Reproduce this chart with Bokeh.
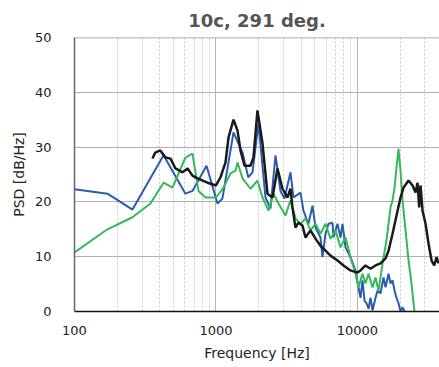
from bokeh.plotting import figure
from bokeh.models import Range1d, FixedTicker, Span
from bokeh.embed import file_html
from bokeh.resources import INLINE

# Spectra (frequency in Hz, PSD in dB/Hz)
blue_f = [100, 171, 257, 426, 608, 682, 857, 1024, 1110, 1330, 1540, 1690, 1811, 1996,
          2238, 2428, 2634, 2857, 3049, 3361, 3529, 3955, 4153, 4501, 4809, 5050, 5478,
          5659, 5943, 6241, 6661, 6770, 7225, 7587, 7838, 8230, 8928, 9686, 10164, 10508,
          10856, 11215, 11586, 11970, 12366, 12776, 13415, 13859, 14553, 15281, 15787,
          16578, 17126, 17694, 18279, 18883, 19508, 20154, 20820, 21509]
blue_db = [22.3, 21.5, 18.6, 28.5, 21.5, 22.0, 26.6, 19.7, 20.6, 32.7, 29.0, 24.5, 25.4, 34.3,
           20.8, 18.8, 28.5, 22.0, 20.6, 25.4, 20.8, 21.7, 18.4, 16.0, 19.3, 15.3, 13.5,
           9.9, 14.2, 16.0, 16.2, 13.5, 16.0, 13.5, 16.0, 11.7, 9.9, 7.5, 4.4, 2.5,
           5.7, 2.0, 1.5, 0.5, 2.5, 0.2, 2.5, 3.8, 3.3, 6.2, 4.4,
           6.9, 5.1, 5.7, 3.8, 2.5, 1.5, 0.0, 0.8, 0.0]

green_f = [100, 171, 257, 344, 426, 493, 608, 682, 752, 843, 1000, 1130, 1266, 1374, 1420,
           1540, 1753, 1964, 2131, 2350, 2550, 2766, 3099, 3361, 3646, 3955, 4290, 4655,
           5050, 5478, 5943, 6447, 6994, 7587, 8230, 8928, 9686, 10164, 10856, 11399,
           11970, 12776, 13415, 14087, 14792, 15281, 16046, 16578, 17126, 17694, 18279,
           18883, 19508, 20154, 20820, 21509, 22222, 22958, 24107, 24905, 25314]
green_db = [10.8, 15.0, 17.2, 19.7, 23.5, 22.6, 28.1, 28.8, 22.0, 20.8, 20.8, 22.6, 25.2, 25.7, 27.2,
            24.3, 22.4, 23.9, 20.8, 18.4, 21.5, 19.7, 17.5, 20.3, 17.0, 16.0, 17.0, 14.8,
            16.0, 14.2, 16.0, 13.3, 14.8, 11.7, 13.5, 9.9, 6.9, 4.4, 6.9, 5.1,
            6.9, 4.4, 6.2, 3.8, 7.5, 9.9, 13.0, 16.0, 19.0, 20.3, 22.6,
            26.3, 29.7, 25.7, 20.3, 16.6, 13.0, 9.3, 5.1, 1.5, 0.0]

black_f = [356, 372, 404, 440, 477, 517, 580, 630, 682, 740, 871, 1000, 1076, 1168, 1227,
           1330, 1420, 1490, 1591, 1753, 1841, 1964, 2131, 2312, 2509, 2721, 2952, 3202,
           3361, 3472, 3646, 3825, 4086, 4290, 4655, 5050, 5478, 5943, 6447, 7225, 7967,
           8928, 10000, 10508, 11399, 12366, 13415, 14553, 15787, 16578, 17694, 18883,
           20154, 21162, 22958, 24503, 25730, 26580, 27300, 27912, 28836, 30280, 31780,
           33388, 34880, 36220, 37418]
black_db = [27.9, 29.0, 29.4, 28.1, 27.9, 26.1, 25.4, 26.1, 24.8, 24.3, 23.5, 23.0, 24.5, 27.2, 31.8,
            35.0, 33.0, 29.4, 26.6, 26.6, 28.1, 36.7, 30.7, 21.5, 20.8, 26.1, 22.4, 20.8,
            22.4, 19.0, 15.3, 16.2, 15.7, 13.5, 14.8, 13.3, 12.0, 11.1, 10.2, 9.3, 8.4,
            7.5, 7.1, 7.5, 8.4, 7.8, 8.4, 8.8, 9.7, 11.1, 14.2, 17.5,
            20.8, 22.6, 23.9, 23.0, 21.7, 23.5, 19.0, 23.0, 18.4, 16.0, 12.4,
            9.3, 8.4, 9.9, 8.8]

x_major = [100, 1000, 10000]
x_minor = [m * d for d in (100, 1000, 10000) for m in range(2, 10) if m * d < 40000]
y_ticks = [0, 10, 20, 30, 40, 50]

FONT = "DejaVu Sans"

p = figure(width=439, height=367, x_axis_type="log",
           x_range=Range1d(100, 38000), y_range=Range1d(0, 50),
           output_backend="svg", toolbar_location=None,
           min_border_left=74, min_border_right=0, min_border_top=37, min_border_bottom=56,
           title="10c, 291 deg.")
p.outline_line_color = None
p.background_fill_color = "white"
p.border_fill_color = "white"

p.title.align = "center"
p.title.vertical_align = "middle"
p.title.text_font = FONT
p.title.text_font_style = "bold"
p.title.text_font_size = "18px"
p.title.text_color = "#555555"
p.title.standoff = 12
p.title.offset = -5

# axes
p.xaxis.ticker = FixedTicker(ticks=x_major, minor_ticks=x_minor)
p.xaxis.major_label_overrides = {100: "100", 1000: "1000", 10000: "10000"}
p.yaxis.ticker = FixedTicker(ticks=y_ticks)
for ax in (p.xaxis[0], p.yaxis[0]):
    ax.major_tick_line_color = None
    ax.minor_tick_line_color = None
    ax.major_label_text_font = FONT
    ax.major_label_text_font_size = "13px"
    ax.major_label_text_color = "#222222"
    ax.axis_label_text_font = FONT
    ax.axis_label_text_font_size = "14px"
    ax.axis_label_text_font_style = "normal"
    ax.axis_label_text_color = "#222222"
p.xaxis.axis_label = "Frequency [Hz]"
p.yaxis.axis_label = "PSD [dB/Hz]"
p.xaxis.axis_line_color = "#111111"
p.xaxis.axis_line_width = 1.5
p.yaxis.axis_line_color = "#666666"
p.yaxis.axis_line_width = 1.5
p.xaxis.major_label_standoff = 8
p.xaxis.axis_label_standoff = 7
p.yaxis.major_label_standoff = 17
p.yaxis.axis_label_standoff = 5

# grid
p.xgrid.ticker = FixedTicker(ticks=x_major, minor_ticks=x_minor)
p.xgrid.grid_line_color = "#b5b5b5"
p.xgrid.grid_line_width = 1
p.xgrid.minor_grid_line_color = "#c8c8c8"
p.xgrid.minor_grid_line_dash = "2 2"
p.ygrid.ticker = FixedTicker(ticks=[10, 20, 30, 40])
p.ygrid.grid_line_color = "#b0b0b0"
p.ygrid.grid_line_width = 1

p.add_layout(Span(location=50, dimension="width", line_color="#999999", line_width=1.5))

p.line(blue_f, blue_db, line_color="#2a5cae", line_width=2)
p.line(green_f, green_db, line_color="#35b85a", line_width=2)
p.line(black_f, black_db, line_color="#1a1a1a", line_width=2.5)

open("out.html", "w").write(file_html(p, INLINE))
